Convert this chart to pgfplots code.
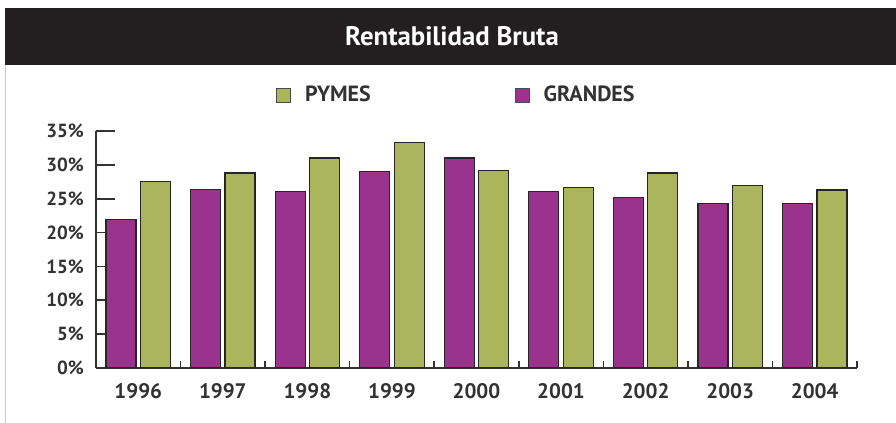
\documentclass[border=0pt]{standalone}
\usepackage{pgfplots}
\pgfplotsset{compat=1.18}
\usepackage{fontspec}
\setmainfont{PT Sans}
\definecolor{grandes}{RGB}{153,51,141}
\definecolor{pymes}{RGB}{170,181,92}
\definecolor{barbg}{RGB}{35,31,32}
\definecolor{txt}{RGB}{50,50,50}
\begin{document}
\begin{tikzpicture}
\path[use as bounding box] (0,0) rectangle (448pt,211.5pt);
\fill[barbg] (2.5pt,179pt) rectangle (448pt,207.5pt);
\node[text=white, font=\bfseries\fontsize{13.4}{15}\selectfont] at (226pt,193.25pt) {Rentabilidad Bruta};
\draw[black!20, line width=0.5pt] (2.5pt,0) -- (2.5pt,179pt);
\begin{axis}[
  at={(48pt,27.5pt)}, anchor=south west,
  scale only axis, width=380.5pt, height=118.5pt,
  xmin=-0.5, xmax=8.5, ymin=0, ymax=35,
  axis lines*=left,
  axis line style={draw=txt, line width=0.8pt},
  xtick={0,...,8},
  xticklabels={1996,1997,1998,1999,2000,2001,2002,2003,2004},
  minor xtick={0.5,1.5,...,8.5},
  major x tick style={draw=none},
  minor x tick style={draw=txt, line width=0.8pt},
  minor tick length=3.5pt,
  ytick={0,5,...,35},
  yticklabel={\pgfmathprintnumber{\tick}\%},
  y tick style={draw=txt, line width=0.8pt},
  major tick length=9.5pt,
  tick align=inside,
  /pgf/number format/assume math mode=true,
  x tick label style={font=\bfseries\fontsize{10.5}{12}\selectfont, text=txt, yshift=-4pt},
  y tick label style={font=\bfseries\fontsize{9.5}{11}\selectfont, text=txt, xshift=-2.5pt},
  legend columns=2,
  reverse legend,
  legend style={at={(0.475,1.152)}, anchor=center, draw=none, fill=none,
    font=\bfseries\fontsize{11}{13}\selectfont, text=txt,
    /tikz/every odd column/.append style={column sep=5pt},
    /tikz/every even column/.append style={column sep=70pt}},
  legend image code/.code={\draw[#1, draw=black!70, line width=0.4pt] (0pt,-3.5pt) rectangle (7pt,3.5pt);},
]
\addplot[ybar, bar width=15pt, bar shift=-8.6pt, fill=grandes, draw=black!85, line width=0.6pt]
  coordinates {(0,21.9) (1,26.4) (2,26.1) (3,29.0) (4,31.0) (5,26.1) (6,25.2) (7,24.3) (8,24.3)};
\addlegendentry{GRANDES}
\addplot[ybar, bar width=15pt, bar shift=8.6pt, fill=pymes, draw=black!85, line width=0.6pt]
  coordinates {(0,27.5) (1,28.8) (2,31.0) (3,33.3) (4,29.2) (5,26.6) (6,28.8) (7,26.9) (8,26.3)};
\addlegendentry{PYMES}
\end{axis}
\end{tikzpicture}
\end{document}
